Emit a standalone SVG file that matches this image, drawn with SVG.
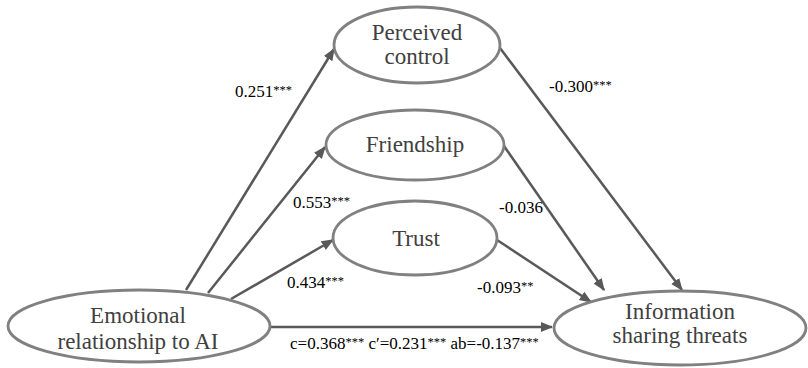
<svg xmlns="http://www.w3.org/2000/svg" width="808" height="368" viewBox="0 0 808 368">
<style>
.node ellipse{fill:#fff;stroke:#808080;stroke-width:2.8}
.node text{font-size:23px;fill:#404040;text-anchor:middle}
.edge{stroke:#595959;stroke-width:2.5;fill:none;marker-end:url(#ah)}
.lbl{font-size:17px;fill:#000}
.st{font-size:12.5px}
</style>
<defs>
<marker id="ah" viewBox="0 0 10 10" refX="9" refY="5" markerWidth="5" markerHeight="5" orient="auto" markerUnits="strokeWidth">
<path d="M0,1 L10,5 L0,9 z" fill="#595959"/>
</marker>
</defs>
<rect width="808" height="368" fill="#fff"/>
<g id="connectors">
<line class="edge" x1="186" y1="290" x2="334" y2="49"/>
<line class="edge" x1="208" y1="293" x2="325" y2="147"/>
<line class="edge" x1="231" y1="299" x2="333" y2="240"/>
<line class="edge" x1="270" y1="327" x2="552" y2="327"/>
<line class="edge" x1="500" y1="48" x2="682" y2="290"/>
<line class="edge" x1="504" y1="146" x2="604" y2="290"/>
<line class="edge" x1="497" y1="240" x2="591" y2="302"/>
</g>
<g font-family="'Liberation Serif', 'DejaVu Serif', serif">
<g id="n-emotional" class="node">
<ellipse cx="139" cy="326" rx="131" ry="36"/>
<text x="138" y="323">Emotional</text>
<text x="138" y="349">relationship to AI</text>
</g>
<g id="n-perceived" class="node">
<ellipse cx="417" cy="45" rx="83" ry="38"/>
<text x="417" y="40">Perceived</text>
<text x="417" y="64">control</text>
</g>
<g id="n-friendship" class="node">
<ellipse cx="415" cy="145" rx="89" ry="35"/>
<text x="415" y="152">Friendship</text>
</g>
<g id="n-trust" class="node">
<ellipse cx="415" cy="238" rx="82" ry="37"/>
<text x="416" y="246">Trust</text>
</g>
<g id="n-info" class="node">
<ellipse cx="680" cy="328" rx="126" ry="37"/>
<text x="680" y="319">Information</text>
<text x="680" y="343">sharing threats</text>
</g>
<g id="labels">
<text class="lbl" x="235" y="97">0.251<tspan class="st" dy="-3">***</tspan></text>
<text class="lbl" x="293" y="208">0.553<tspan class="st" dy="-3">***</tspan></text>
<text class="lbl" x="287" y="288">0.434<tspan class="st" dy="-3">***</tspan></text>
<text class="lbl" x="549" y="92">-0.300<tspan class="st" dy="-3">***</tspan></text>
<text class="lbl" x="499" y="213">-0.036</text>
<text class="lbl" x="477" y="293">-0.093<tspan class="st" dy="-3">**</tspan></text>
<text class="lbl" x="290" y="349" font-size="16.5">c=0.368<tspan class="st" dy="-3">***</tspan><tspan dy="3"> c′=0.231</tspan><tspan class="st" dy="-3">***</tspan><tspan dy="3"> ab=-0.137</tspan><tspan class="st" dy="-3">***</tspan></text>
</g>
</g>
</svg>
